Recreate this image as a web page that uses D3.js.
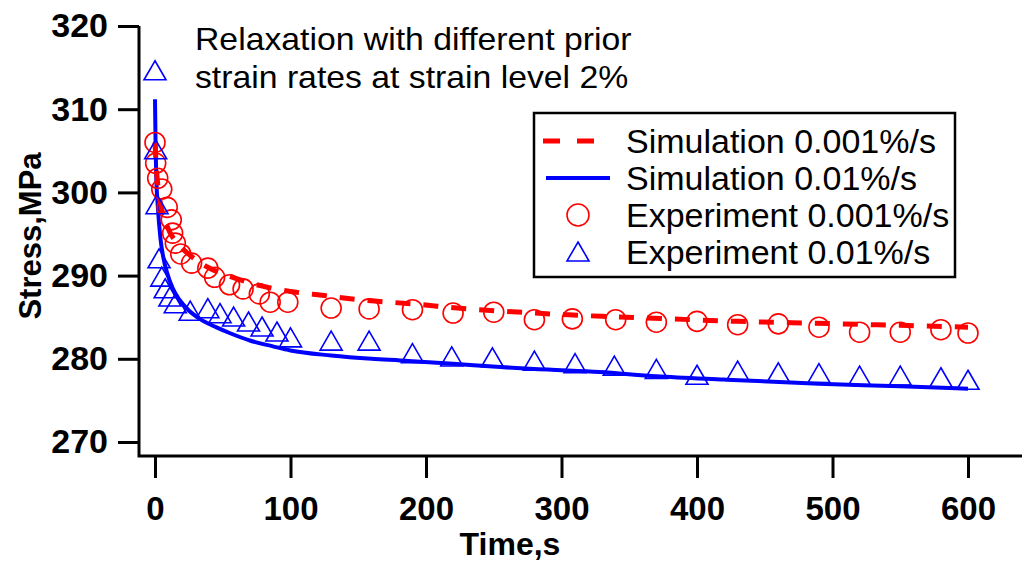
<!DOCTYPE html>
<html>
<head>
<meta charset="utf-8">
<script src="https://cdn.jsdelivr.net/npm/d3@7"></script>
<style>
  html, body { margin: 0; padding: 0; background: #fff; }
  svg { display: block; font-family: Arial, "Liberation Sans", sans-serif; }
</style>
</head>
<body>
<svg id="chart" width="1027" height="561"></svg>
<script>
// ---------------- data ----------------
const xTicks = [0, 100, 200, 300, 400, 500, 600];
const yTicks = [270, 280, 290, 300, 310, 320];

// Simulation 0.001%/s (red dashed)
const simSlowT = [0, 1, 2, 4, 7, 11, 17, 24, 39, 59, 80, 100, 125, 150, 190, 230, 280, 330, 380, 430, 480, 530, 600];
const simSlowV = [306, 303, 301, 298.7, 296.8, 295.2, 293.8, 292.7, 291.0, 289.7, 288.7, 288.1, 287.6, 287.1, 286.6, 286.0, 285.5, 285.1, 284.8, 284.5, 284.3, 284.1, 283.8];

// Simulation 0.01%/s (blue solid)
const simFastT = [0, 0.5, 1, 2, 4, 6, 9, 13, 18, 25, 33, 45, 55, 70, 87, 100, 130, 160, 181, 220, 255, 290, 328, 370, 420, 490, 550, 600];
const simFastV = [311.2, 305, 301.5, 298.5, 294.5, 292.3, 290.3, 288.5, 287.1, 285.8, 284.8, 283.8, 283.1, 282.2, 281.5, 281.0, 280.4, 280.0, 279.8, 279.4, 279.0, 278.7, 278.4, 277.9, 277.5, 277.0, 276.7, 276.4];

// Experiment 0.001%/s (red circles)
const expSlowT = [0, 0.5, 2, 5, 9, 12, 13, 15, 19, 27, 39, 44, 55, 65, 77, 85, 98, 130, 158, 190, 220, 250, 280, 308, 340, 370, 400, 430, 460, 490, 520, 550, 580, 600];
const expSlowV = [306.0, 303.5, 301.7, 300.4, 298.2, 296.7, 295.1, 293.9, 292.6, 291.5, 290.9, 289.8, 288.9, 288.4, 287.8, 286.8, 286.8, 286.1, 286.0, 285.9, 285.5, 285.6, 284.7, 284.8, 284.7, 284.4, 284.5, 284.1, 284.2, 283.8, 283.2, 283.2, 283.5, 283.1];

// Experiment 0.01%/s (blue triangles)
const expFastT = [0, 0.5, 1.5, 3, 5, 7.5, 11, 15, 26, 39, 48, 58, 69, 79, 90, 100, 130, 158, 190, 219, 249, 280, 310, 339, 370, 400, 430, 460, 490, 520, 550, 580, 600];
const expFastV = [314.5, 305.0, 298.4, 291.9, 289.7, 288.3, 287.3, 286.5, 285.6, 285.9, 285.3, 284.9, 284.3, 283.7, 283.1, 282.4, 282.0, 282.0, 280.5, 280.1, 280.0, 279.6, 279.3, 279.0, 278.6, 277.9, 278.4, 278.2, 278.1, 277.8, 277.8, 277.6, 277.3];

const annotation = ["Relaxation with different prior", "strain rates at strain level 2%"];
const legendLabels = ["Simulation 0.001%/s", "Simulation 0.01%/s", "Experiment 0.001%/s", "Experiment 0.01%/s"];
const xTitle = "Time,s";
const yTitle = "Stress,MPa";

// ---------------- drawing ----------------
const RED = "#ff0000", BLUE = "#0000ff";
const svg = d3.select("#chart");

const x = d3.scaleLinear().domain([0, 600]).range([155, 968]);
const y = d3.scaleLinear().domain([270, 320]).range([442, 26]);

const axisX0 = 139, axisY0 = 456;

// axis lines
svg.append("path")
  .attr("d", `M${axisX0},${y(320)}V${axisY0}H1022`)
  .attr("fill", "none").attr("stroke", "#000").attr("stroke-width", 3);

// y axis ticks & labels
const yAxis = d3.axisLeft(y).tickValues(yTicks).tickSize(21).tickPadding(10).tickFormat(d3.format("d"));
const gy = svg.append("g").attr("transform", `translate(${axisX0},0)`).call(yAxis);
gy.select(".domain").remove();
gy.selectAll(".tick line").attr("stroke", "#000").attr("stroke-width", 3);
gy.selectAll(".tick text").attr("fill", "#000").attr("font-size", 34).attr("font-weight", "bold")
  .attr("font-family", "Arial, 'Liberation Sans', sans-serif").attr("x", -31);

// x axis ticks & labels
const xAxis = d3.axisBottom(x).tickValues(xTicks).tickSize(22).tickPadding(20).tickFormat(d3.format("d"));
const gx = svg.append("g").attr("transform", `translate(0,${axisY0})`).call(xAxis);
gx.select(".domain").remove();
gx.selectAll(".tick line").attr("stroke", "#000").attr("stroke-width", 3);
gx.selectAll(".tick text").attr("fill", "#000").attr("font-size", 33).attr("font-weight", "bold")
  .attr("font-family", "Arial, 'Liberation Sans', sans-serif").attr("dy", null).attr("y", 64);

// axis titles
svg.append("text").attr("x", 510).attr("y", 555).attr("text-anchor", "middle")
  .attr("font-size", 32).attr("font-weight", "bold").text(xTitle);
svg.append("text").attr("transform", "translate(41,236) rotate(-90)").attr("text-anchor", "middle")
  .attr("font-size", 31).attr("font-weight", "bold").text(yTitle);

// annotation (two lines, slightly widened to match the reference's text width)
svg.append("text").attr("transform", "translate(195,50) scale(1.055,1)")
  .attr("font-size", 32).text(annotation[0]);
svg.append("text").attr("transform", "translate(195,88) scale(1.055,1)")
  .attr("font-size", 32).text(annotation[1]);

// lines
const line = d3.line().x(d => x(d[0])).y(d => y(d[1])).curve(d3.curveMonotoneX);
svg.append("path").datum(simFastT.map((t, i) => [t, simFastV[i]]))
  .attr("d", line).attr("fill", "none").attr("stroke", BLUE).attr("stroke-width", 4);
svg.append("path").datum(simSlowT.map((t, i) => [t, simSlowV[i]]))
  .attr("d", line).attr("fill", "none").attr("stroke", RED).attr("stroke-width", 5)
  .attr("stroke-dasharray", "15,13");

// markers
const triPath = (cx, cy) => `M${cx},${cy - 11}L${cx + 11},${cy + 8}L${cx - 11},${cy + 8}Z`;
svg.append("g").selectAll("circle").data(expSlowT.map((t, i) => [t, expSlowV[i]])).join("circle")
  .attr("cx", d => x(d[0])).attr("cy", d => y(d[1])).attr("r", 10)
  .attr("fill", "none").attr("stroke", RED).attr("stroke-width", 1.6);
svg.append("g").selectAll("path").data(expFastT.map((t, i) => [t, expFastV[i]])).join("path")
  .attr("d", d => triPath(x(d[0]), y(d[1])))
  .attr("fill", "none").attr("stroke", BLUE).attr("stroke-width", 1.6);

// legend
const lg = svg.append("g");
lg.append("rect").attr("x", 534).attr("y", 113).attr("width", 421).attr("height", 164)
  .attr("fill", "#fff").attr("stroke", "#000").attr("stroke-width", 2.5);
const rowBase = [153, 190, 227, 264];
legendLabels.forEach((lab, i) => {
  lg.append("text").attr("x", 626).attr("y", rowBase[i]).attr("font-size", 34).text(lab);
});
const rc = rowBase.map(b => b - 12);
lg.append("line").attr("x1", 543).attr("x2", 596).attr("y1", rc[0]).attr("y2", rc[0])
  .attr("stroke", RED).attr("stroke-width", 5).attr("stroke-dasharray", "17,17");
lg.append("line").attr("x1", 546).attr("x2", 610).attr("y1", rc[1]).attr("y2", rc[1])
  .attr("stroke", BLUE).attr("stroke-width", 4);
lg.append("circle").attr("cx", 578).attr("cy", rc[2]).attr("r", 11)
  .attr("fill", "none").attr("stroke", RED).attr("stroke-width", 1.6);
lg.append("path").attr("d", triPath(578, rc[3] + 1))
  .attr("fill", "none").attr("stroke", BLUE).attr("stroke-width", 1.6);
</script>
</body>
</html>
